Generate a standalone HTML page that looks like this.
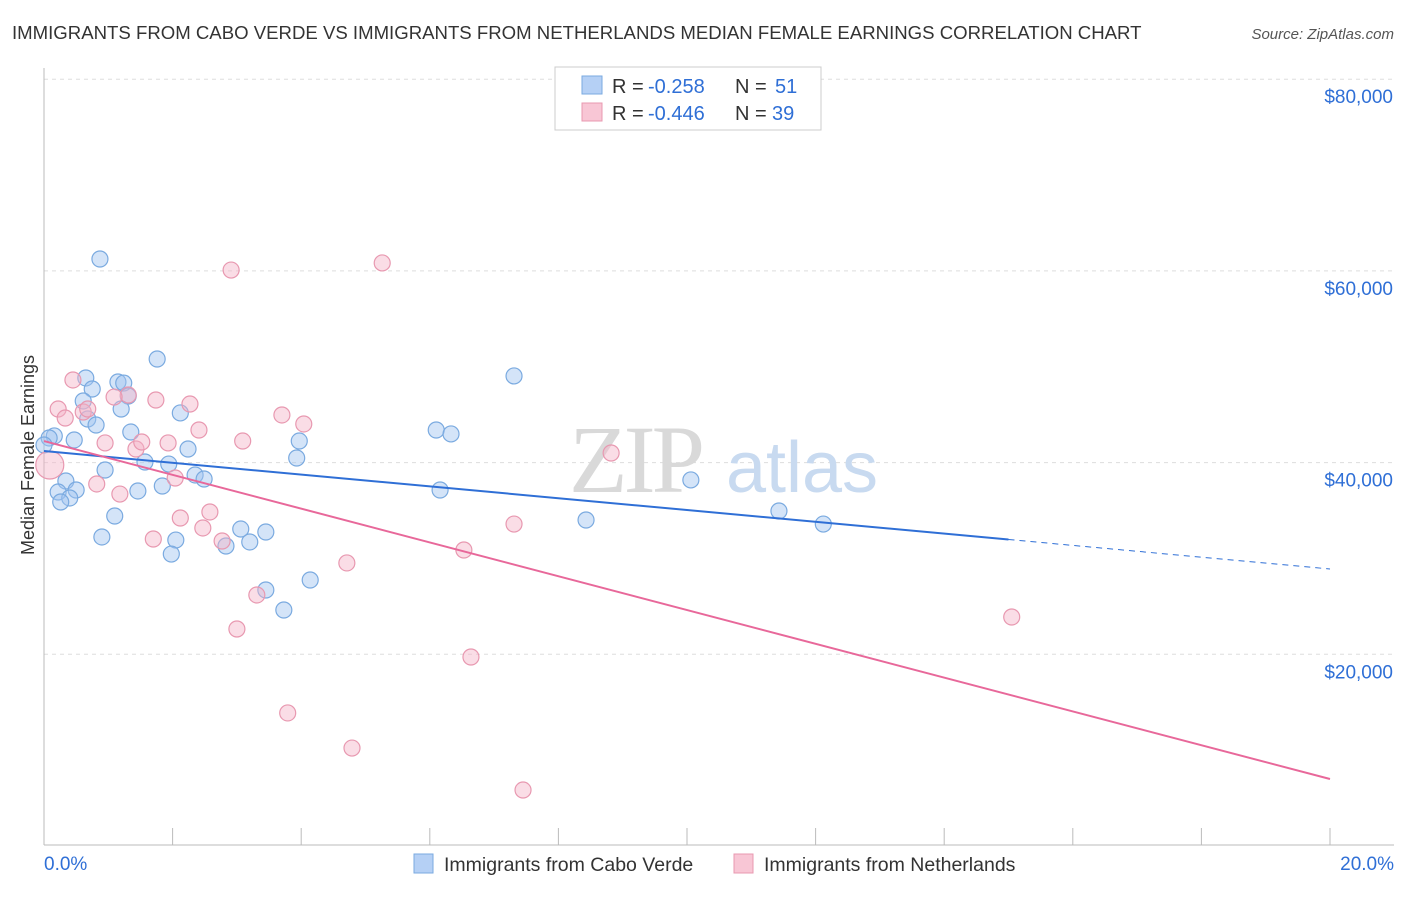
<!DOCTYPE html>
<html><head><meta charset="utf-8"><style>
body{margin:0;background:#fff;font-family:"Liberation Sans",sans-serif}
</style></head><body>
<svg id="chart" width="1406" height="892" viewBox="0 0 1406 892" xmlns="http://www.w3.org/2000/svg">
<text x="12" y="39" font-size="18.6" fill="#333">IMMIGRANTS FROM CABO VERDE VS IMMIGRANTS FROM NETHERLANDS MEDIAN FEMALE EARNINGS CORRELATION CHART</text>
<text x="1394" y="39" font-size="15" fill="#555" font-style="italic" text-anchor="end">Source: ZipAtlas.com</text>
<g id="grid"></g>
<g id="watermark">
<text x="635" y="492" font-size="96" font-family="Liberation Serif,serif" fill="#d9d9d9" text-anchor="middle" letter-spacing="-4">ZIP</text>
<text x="802" y="492" font-size="72" fill="#c8daf0" text-anchor="middle">atlas</text>
</g>
<text transform="translate(34,455) rotate(-90)" font-size="18" fill="#333" text-anchor="middle">Median Female Earnings</text>
<g id="marks"></g>
<g id="lines"></g>
<g>
<rect x="555" y="67" width="266" height="63" fill="#fff" stroke="#ccc"/>
<rect x="582" y="76" width="20" height="18" fill="#b5d0f5" stroke="#7aaae0"/>
<rect x="582" y="103" width="20" height="18" fill="#f8c6d5" stroke="#e898b0"/>
<g font-size="20" fill="#333">
<text x="612" y="93">R =</text><text x="648" y="93" fill="#2f6fd6">-0.258</text>
<text x="735" y="93">N =</text><text x="775" y="93" fill="#2f6fd6">51</text></g>
<g font-size="20" fill="#333">
<text x="612" y="120">R =</text><text x="648" y="120" fill="#2f6fd6">-0.446</text>
<text x="735" y="120">N =</text><text x="772" y="120" fill="#2f6fd6">39</text></g>
</g>
<g>
<rect x="414" y="854" width="19" height="19" fill="#b5d0f5" stroke="#7aaae0"/>
<text x="444" y="871" font-size="19.5" fill="#333">Immigrants from Cabo Verde</text>
<rect x="734" y="854" width="19" height="19" fill="#f8c6d5" stroke="#e898b0"/>
<text x="764" y="871" font-size="19.5" fill="#333">Immigrants from Netherlands</text>
</g>
</svg>
<script>
const xTicks=[0,2,4,6,8,10,12,14,16,18,20];
const yTicks=[20000,40000,60000,80000];
const yTickLabels=["$20,000","$40,000","$60,000","$80,000"];
const blueX=[0.87,1.76,0.65,1.15,1.24,0.75,1.31,0.61,1.20,2.12,0.68,0.81,0.16,0.08,0.47,1.35,2.24,1.57,1.94,0.95,2.35,2.49,0.34,1.84,1.46,0.22,0.50,0.40,0.26,1.10,0.90,2.05,1.98,2.83,3.06,3.20,3.45,3.45,4.14,3.73,3.97,3.93,6.10,6.33,7.31,6.16,8.43,10.06,11.43,12.12,0.0];
const blueY=[61240,50810,48830,48410,48300,47680,46950,46430,45590,45180,44550,43920,42780,42570,42360,43190,41420,40060,39850,39230,38710,38290,38080,37560,37040,36930,37140,36310,35890,34430,32240,31920,30460,31300,33070,31720,32760,26710,27750,24620,42250,40480,43400,42990,49040,37140,34010,38190,34950,33590,41840];
const pinkX=[0.22,0.09,0.45,0.33,0.61,0.68,1.31,1.09,0.95,1.43,1.52,1.74,1.93,2.27,2.41,0.82,1.18,2.04,1.70,2.12,2.47,2.58,2.77,3.09,2.91,5.26,3.70,4.04,3.31,3.00,3.79,4.71,4.79,6.53,6.64,7.31,7.45,8.82,15.05];
const pinkY=[45590,39750,48620,44650,45280,45590,47050,46840,42050,41420,42150,46530,42050,46110,43400,37770,36720,38390,32030,34220,33180,34850,31820,42250,60090,60830,44970,44030,26190,22640,13880,29530,10220,30880,19720,33590,5840,41000,23890];
const blueLine=[41210,28900];
const blueSolidEnd=15.0;
const pinkLine=[42250,6990];
const NS="http://www.w3.org/2000/svg";
const X=v=>44+v*64.3, Y=v=>846-v/104.33;
function mk(tag,attrs,parent){const e=document.createElementNS(NS,tag);for(const k in attrs)e.setAttribute(k,attrs[k]);parent.appendChild(e);return e;}
const grid=document.getElementById('grid');
yTicks.forEach((t,i)=>{
 const g=mk('line',{x1:44,x2:1394,y1:Y(t),y2:Y(t),stroke:'#ddd','stroke-dasharray':'4,4'},grid);
 
 
 const l=mk('text',{x:1393,y:Y(t)+24,'font-size':19,fill:'#2f6fd6','text-anchor':'end'},grid);
 l.textContent=yTickLabels[i];
 
 
});
const ax=mk('line',{x1:44,x2:1394,y1:845,y2:845,stroke:'#bbb'},grid);


const ay=mk('line',{x1:44,x2:44,y1:68,y2:845,stroke:'#bbb'},grid);


xTicks.forEach(t=>{
 const tk=mk('line',{x1:X(t),x2:X(t),y1:828,y2:845,stroke:'#bbb'},grid);
 
 
});
[[0,'0.0%','start',44],[20,'20.0%','end',1394]].forEach(([v,s,a,x])=>{
 const l=mk('text',{x:x,y:870,'font-size':19,fill:'#2f6fd6','text-anchor':a},grid);
 l.textContent=s;
 
 
});
const marks=document.getElementById('marks');
blueX.forEach((x,i)=>{
 const c=mk('circle',{cx:X(x),cy:Y(blueY[i]),r:8,fill:'rgba(160,196,240,0.45)',stroke:'#7aaae0','stroke-width':1.2},marks);
 
 
});
pinkX.forEach((x,i)=>{
 const c=mk('circle',{cx:X(x),cy:Y(pinkY[i]),r:i==1?14:8,fill:'rgba(244,180,200,0.45)',stroke:'#e898b0','stroke-width':1.2},marks);
 
 
});
const lines=document.getElementById('lines');
const by=x=>blueLine[0]+(blueLine[1]-blueLine[0])*x/20;
const b1=mk('line',{x1:X(0),y1:Y(by(0)),x2:X(blueSolidEnd),y2:Y(by(blueSolidEnd)),stroke:'#2f6fd6','stroke-width':2},lines);


const b2=mk('line',{x1:X(blueSolidEnd),y1:Y(by(blueSolidEnd)),x2:X(20),y2:Y(by(20)),stroke:'#2f6fd6','stroke-width':1,'stroke-dasharray':'6,5'},lines);


const p1=mk('line',{x1:X(0),y1:Y(pinkLine[0]),x2:X(20),y2:Y(pinkLine[1]),stroke:'#e8689a','stroke-width':2},lines);


</script>
</body></html>
